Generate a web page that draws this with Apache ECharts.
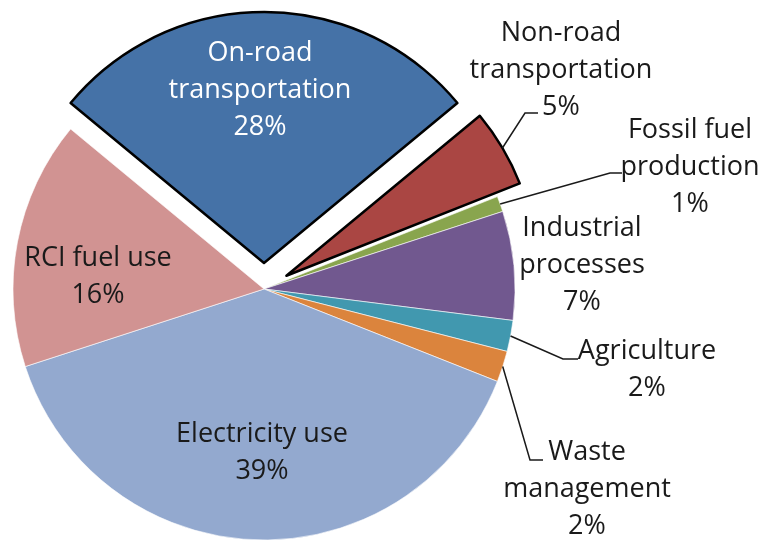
<!DOCTYPE html>
<html>
<head>
<meta charset="utf-8">
<title>Emissions by sector</title>
<script src="https://cdn.jsdelivr.net/npm/echarts@6/dist/echarts.min.js"></script>
<style>
  html, body { margin: 0; padding: 0; background: #fff; }
  #chart { width: 763px; height: 540px; }
</style>
</head>
<body>
<div id="chart"></div>
<script>
// data, clockwise from the on-road slice
var categories = ['On-road transportation', 'Non-road transportation', 'Fossil fuel production',
  'Industrial processes', 'Agriculture', 'Waste management', 'Electricity use', 'RCI fuel use'];
var labelLines = [['On-road', 'transportation'], ['Non-road', 'transportation'], ['Fossil fuel', 'production'],
  ['Industrial', 'processes'], ['Agriculture'], ['Waste', 'management'], ['Electricity use'], ['RCI fuel use']];
var shares = [28, 5, 1, 7, 2, 2, 39, 16];
var exploded = ['On-road transportation', 'Non-road transportation'];

var colors = ['#4572A7', '#AA4643', '#89A54E', '#71588F', '#4198AF', '#DB843D', '#93A9CF', '#D19392'];

// layout
var PIE_CENTER = [264, 289];
var PIE_RADIUS = 251;
var EXPLODE = 26;

// where each label block is centred
var labelSpot = {
  'On-road transportation': [260, 90],
  'Non-road transportation': [561, 70],
  'Fossil fuel production': [690, 167],
  'Industrial processes': [582, 265],
  'Agriculture': [647, 370],
  'Waste management': [587, 489],
  'Electricity use': [262, 453],
  'RCI fuel use': [98, 277]
};
// leader line end relative to label centre, plus the length of the flat piece
var leader = {
  'Non-road transportation': [-23, 43, 13],
  'Fossil fuel production': [-68, 6, 12],
  'Agriculture': [-69, -11, 15],
  'Waste management': [-44, -29, 13]
};

function isOut(name) {
  return exploded.indexOf(name) >= 0;
}

var sliceData = categories.map(function (name, i) {
  return {
    name: name,
    value: shares[i],
    selected: isOut(name),
    itemStyle: {
      color: colors[i],
      borderColor: isOut(name) ? '#000' : '#fff',
      borderWidth: isOut(name) ? 2.5 : 0.6
    }
  };
});

var labelData = categories.map(function (name, i) {
  return {
    name: name,
    value: shares[i],
    label: {
      formatter: labelLines[i].join('\n') + '\n' + shares[i] + '%',
      color: name === 'On-road transportation' ? '#fff' : '#1a1a1a'
    },
    labelLine: { show: !!leader[name] }
  };
});

var chart = echarts.init(document.getElementById('chart'));

var option = {
  animation: false,
  backgroundColor: '#fff',
  series: [
    {
      type: 'pie',
      center: PIE_CENTER,
      radius: [0, PIE_RADIUS],
      startAngle: 140.4,
      clockwise: true,
      selectedMode: 'multiple',
      selectedOffset: EXPLODE,
      silent: true,
      label: { show: false },
      labelLine: { show: false },
      select: { itemStyle: { borderColor: '#000', borderWidth: 2.5 } },
      data: sliceData
    },
    {
      // carries the labels only
      type: 'pie',
      z: 3,
      center: PIE_CENTER,
      radius: [0, PIE_RADIUS],
      startAngle: 140.4,
      clockwise: true,
      silent: true,
      avoidLabelOverlap: false,
      itemStyle: { color: 'rgba(0,0,0,0)', borderWidth: 0 },
      label: {
        show: true,
        position: 'outside',
        fontFamily: 'Open Sans',
        fontSize: 27,
        lineHeight: 37,
        width: 260,
        overflow: 'none'
      },
      labelLine: {
        show: true,
        lineStyle: { color: '#1a1a1a', width: 1.5 }
      },
      labelLayout: function (p) {
        var name = categories[p.dataIndex];
        var spot = labelSpot[name];
        var res = { x: spot[0], y: spot[1], align: 'center', verticalAlign: 'middle' };
        var ld = leader[name];
        if (ld && p.labelLinePoints) {
          var p0 = p.labelLinePoints[0].slice();
          if (isOut(name)) {
            var vx = p0[0] - PIE_CENTER[0], vy = p0[1] - PIE_CENTER[1];
            var len = Math.sqrt(vx * vx + vy * vy);
            p0 = [p0[0] + vx / len * EXPLODE, p0[1] + vy / len * EXPLODE];
          }
          var p2 = [spot[0] + ld[0], spot[1] + ld[1]];
          res.labelLinePoints = [p0, [p2[0] - ld[2], p2[1]], p2];
        }
        return res;
      },
      data: labelData
    }
  ]
};

chart.setOption(option);
</script>
</body>
</html>
